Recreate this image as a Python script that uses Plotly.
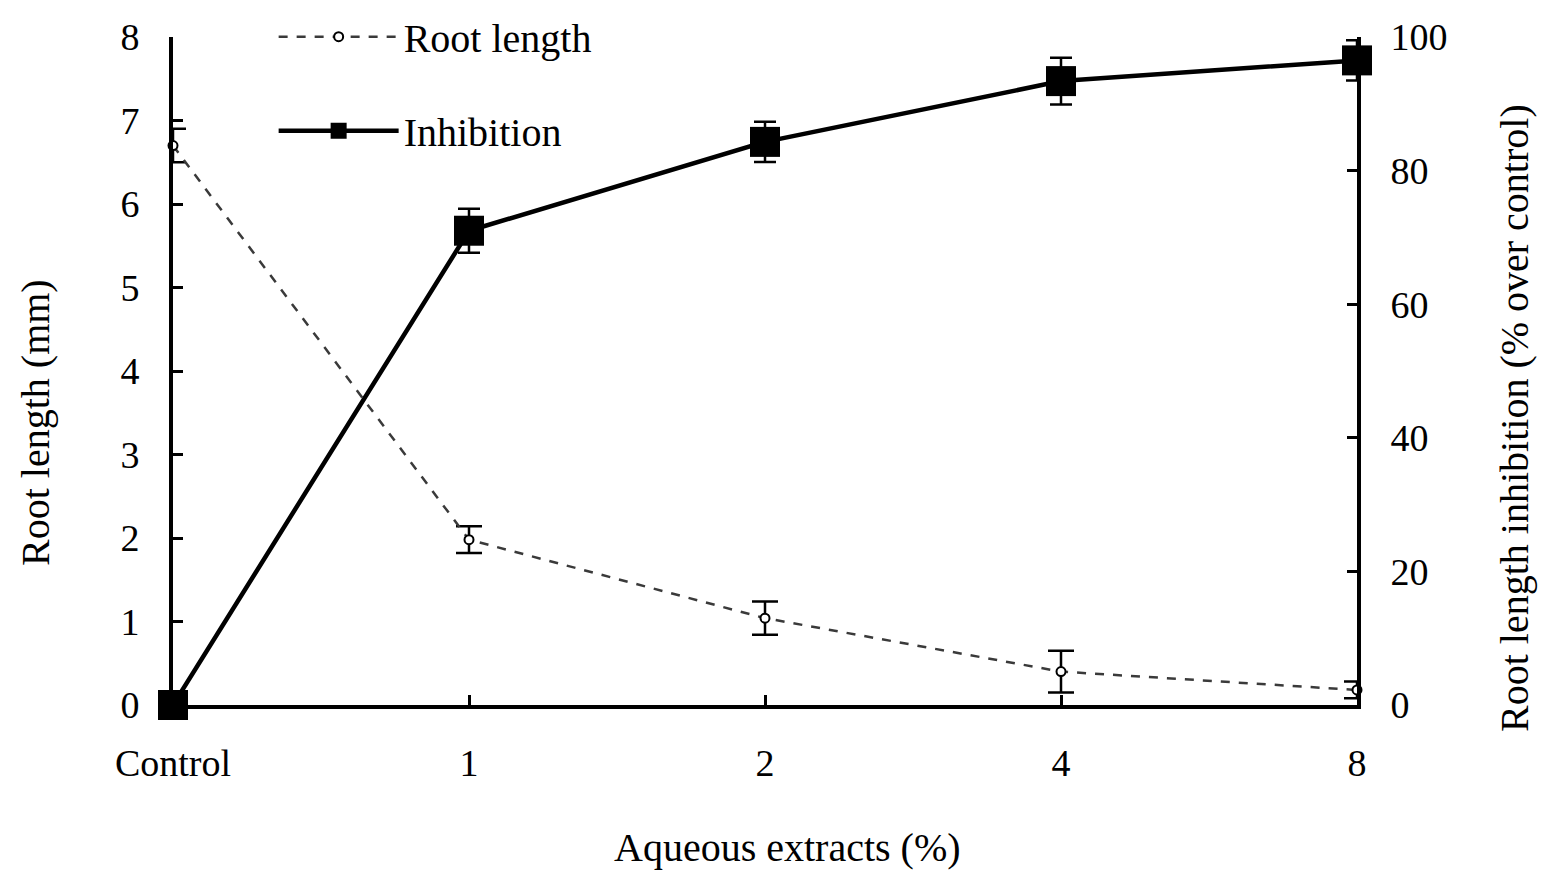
import plotly.graph_objects as go

categories = ["Control", "1", "2", "4", "8"]
root_length = [6.7, 1.98, 1.04, 0.4, 0.18]
root_length_err = [0.2, 0.16, 0.2, 0.25, 0.1]
inhibition = [0, 71, 84.3, 93.4, 96.5]
inhibition_err = [0, 3.3, 3.0, 3.5, 3.0]

x_title = "Aqueous extracts (%)"
y_title = "Root length (mm)"
y2_title = "Root length inhibition (% over control)"

xpos = list(range(len(categories)))
FONT = "Liberation Serif"

fig = go.Figure()
fig.add_trace(go.Scatter(
    x=xpos, y=root_length, name="Root length", mode="lines+markers",
    line=dict(color="#3a3a3a", width=2.5, dash="dash"),
    marker=dict(symbol="circle", size=9, color="white", line=dict(color="black", width=2)),
    error_y=dict(type="data", array=root_length_err, color="black", thickness=2.5, width=13),
    cliponaxis=False, legendgroup="a",
))
fig.add_trace(go.Scatter(
    x=xpos, y=inhibition, name="Inhibition", mode="lines+markers", yaxis="y2",
    line=dict(color="black", width=4.5),
    marker=dict(symbol="square", size=30, color="black"),
    error_y=dict(type="data", array=inhibition_err, color="black", thickness=2.5, width=11),
    cliponaxis=False, legendgroup="b",
))

axis_common = dict(
    showline=True, linecolor="black", linewidth=4, ticks="inside", ticklen=10,
    tickwidth=3, tickcolor="black", showgrid=False, zeroline=False, automargin=False,
    tickfont=dict(family=FONT, size=38, color="black"),
)

title_font = dict(family=FONT, size=40, color="black")
ydom = [0, 0.9475]

fig.update_layout(
    width=1541, height=872, paper_bgcolor="white", plot_bgcolor="white",
    margin=dict(l=173, r=184, t=0, b=167),
    font=dict(family=FONT, size=38, color="black"),
    xaxis=dict(**axis_common, range=[0, 4], tickmode="array", tickvals=xpos,
               ticktext=categories, ticklabelstandoff=21),
    yaxis=dict(**axis_common, range=[0, 8], dtick=1, ticklabelstandoff=22, domain=ydom),
    yaxis2=dict(**axis_common, range=[0, 100], dtick=20, overlaying="y", side="right",
                ticklabelstandoff=22, domain=ydom),
    annotations=[
        dict(text=x_title, xref="paper", yref="paper", x=0.5186, y=-0.2028,
             showarrow=False, font=title_font, xanchor="center", yanchor="middle"),
        dict(text=y_title, xref="paper", yref="paper", x=-0.1166, y=0.4014,
             showarrow=False, font=title_font, textangle=-90,
             xanchor="center", yanchor="middle"),
        dict(text=y2_title, xref="paper", yref="paper", x=1.1334, y=0.4071,
             showarrow=False, font=title_font, textangle=-90,
             xanchor="center", yanchor="middle"),
    ],
    showlegend=True,
    legend=dict(x=0.085, y=0.994, xanchor="left", yanchor="top", bgcolor="rgba(0,0,0,0)",
                itemwidth=120, tracegroupgap=39, traceorder="grouped",
                font=dict(family=FONT, size=40)),
)

fig.write_html("out.html")
